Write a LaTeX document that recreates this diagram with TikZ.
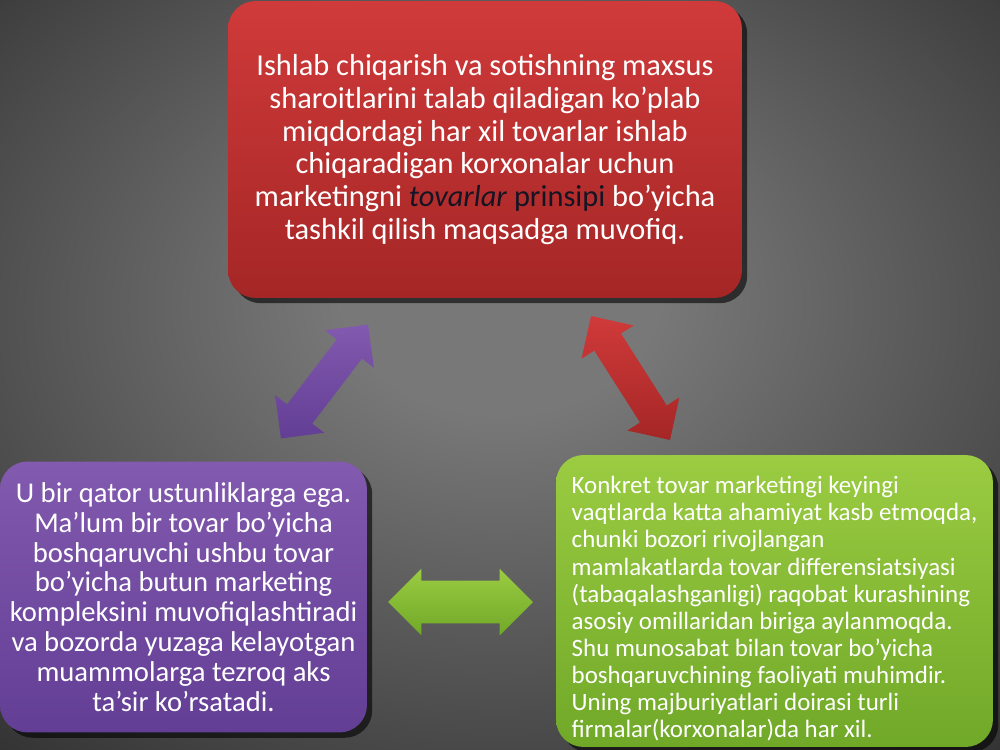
\documentclass[tikz,border=0pt]{standalone}
\usepackage{fontspec}
\setmainfont{Carlito}
\usetikzlibrary{shapes.arrows,shadows}
\definecolor{bgmid}{gray}{0.47}
\definecolor{bgedge}{gray}{0.09}
\pgfdeclareradialshading{bgglow}{\pgfpoint{0bp}{6bp}}{color(0bp)=(bgmid); color(8bp)=(bgmid); color(50bp)=(bgedge); color(72bp)=(black)}
\definecolor{redtop}{RGB}{208,58,58}
\definecolor{redbot}{RGB}{165,38,38}
\definecolor{purtop}{RGB}{130,90,175}
\definecolor{purbot}{RGB}{98,62,148}
\definecolor{grntop}{RGB}{155,204,66}
\definecolor{grnbot}{RGB}{112,168,40}
\definecolor{darkink}{RGB}{20,20,35}
\tikzset{
  box/.style={rounded corners=0.55cm, inner sep=0pt, align=center, text=white,
    drop shadow={shadow xshift=3pt, shadow yshift=-3pt, opacity=0.6, fill=black}},
  link/.style={double arrow, double arrow head extend=0.3cm, inner xsep=0pt, inner ysep=0.31cm,
    draw=none},
}
\begin{document}
\begin{tikzpicture}[x=0.02cm, y=-0.02cm]
\useasboundingbox (0,0) rectangle (1000,750);
\shade[shading=bgglow] (0,0) rectangle (1000,750);

\node[box, top color=redtop, bottom color=redbot, minimum width=10.28cm, minimum height=5.94cm,
  font=\fontsize{17.3}{18.7}\selectfont] (prod) at (485,149.5)
  {Ishlab chiqarish va sotishning maxsus\\
   sharoitlarini talab qiladigan ko’plab\\
   miqdordagi har xil tovarlar ishlab\\
   chiqaradigan korxonalar uchun\\
   marketingni {\color{darkink}\textit{tovarlar} prinsipi} bo’yicha\\
   tashkil qilish maqsadga muvofiq.};

\node[box, top color=purtop, bottom color=purbot, minimum width=7.34cm, minimum height=5.42cm,
  font=\fontsize{16.3}{17}\selectfont] (adv) at (183.5,597)
  {U bir qator ustunliklarga ega.\\
   Ma’lum bir tovar bo’yicha\\
   boshqaruvchi ushbu tovar\\
   bo’yicha butun marketing\\
   kompleksini muvofiqlashtiradi\\
   va bozorda yuzaga kelayotgan\\
   muammolarga tezroq aks\\
   ta’sir ko’rsatadi.};

\node[box, top color=grntop, bottom color=grnbot, minimum width=8.74cm, minimum height=5.84cm,
  align=left, font=\fontsize{14.2}{15.4}\selectfont] (spec) at (774.5,601)
  {\rule{0pt}{18.6pt}Konkret tovar marketingi keyingi\\
   vaqtlarda katta ahamiyat kasb etmoqda,\\
   chunki bozori rivojlangan\\
   mamlakatlarda tovar differensiatsiyasi\\
   (tabaqalashganligi) raqobat kurashining\\
   asosiy omillaridan biriga aylanmoqda.\\
   Shu munosabat bilan tovar bo’yicha\\
   boshqaruvchining faoliyati muhimdir.\\
   Uning majburiyatlari doirasi turli\\
   firmalar(korxonalar)da har xil.};

\node[link, top color=purtop, bottom color=purbot, minimum height=2.87cm, rotate=52.6] (pa) at (324.5,381.5) {};
\node[link, top color=redtop, bottom color=redbot, minimum height=2.94cm, rotate=-57.5] (ra) at (630.5,378) {};
\node[link, top color=grntop, bottom color=grnbot, minimum height=2.9cm, inner ysep=0.42cm,
  double arrow head extend=0.24cm] (ga) at (460.5,602) {};
\end{tikzpicture}
\end{document}
